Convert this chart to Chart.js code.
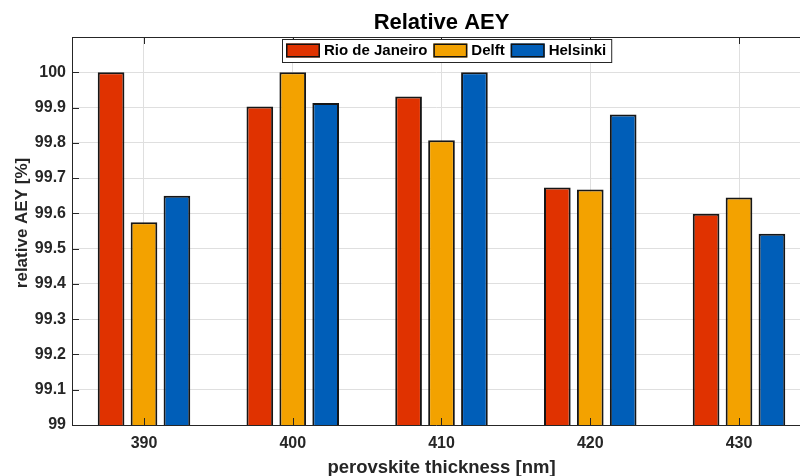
<!DOCTYPE html>
<html>
<head>
<meta charset="utf-8">
<title>Relative AEY</title>
<script src="https://cdn.jsdelivr.net/npm/chart.js@4.4.1/dist/chart.umd.min.js"></script>
<style>
    html, body { margin: 0; padding: 0; background: #ffffff; overflow: hidden; }
    canvas { display: block; }
</style>
</head>
<body>
<canvas id="aeyChart" width="800" height="476"></canvas>
<script>
// perovskite thickness groups and relative AEY per location
const thickness = [390, 400, 410, 420, 430];
const rioDeJaneiro = [100.0, 99.903, 99.931, 99.673, 99.599];
const delft = [99.575, 100.0, 99.807, 99.668, 99.645];
const helsinki = [99.65, 99.913, 100.0, 99.88, 99.542];
const yTicks = [99, 99.1, 99.2, 99.3, 99.4, 99.5, 99.6, 99.7, 99.8, 99.9, 100];
const seriesNames = ['Rio de Janeiro', 'Delft', 'Helsinki'];
const seriesColors = ['#e03200', '#f3a200', '#005eb8'];

const FONT = '"Liberation Sans", Arial, Helvetica, sans-serif';
const AXIS_COLOR = '#262626';
const GRID_COLOR = '#dfdfdf';

// x range of the whole axes box; the right part runs past the canvas edge
const X_MIN = 385.16, X_MAX = 434.84;

Chart.defaults.font.family = FONT;

// inward tick marks plus the top box line
const boxTicks = {
    id: 'boxTicks',
    afterDatasetsDraw(chart) {
        const { ctx, chartArea: a, scales } = chart;
        const len = 7;
        ctx.save();
        ctx.strokeStyle = AXIS_COLOR;
        ctx.lineWidth = 1;
        ctx.beginPath();
        yTicks.forEach(v => {
            const py = Math.round(scales.y.getPixelForValue(v)) + 0.5;
            ctx.moveTo(a.left, py); ctx.lineTo(a.left + len, py);
        });
        thickness.forEach(v => {
            const px = Math.round(scales.x.getPixelForValue(v)) + 0.5;
            ctx.moveTo(px, a.bottom); ctx.lineTo(px, a.bottom - len);
            ctx.moveTo(px, a.top); ctx.lineTo(px, a.top + len);
        });
        ctx.moveTo(a.left, Math.round(a.top) + 0.5);
        ctx.lineTo(a.right, Math.round(a.top) + 0.5);
        ctx.stroke();
        ctx.restore();
    }
};

// title and axis labels, centred on the full axes box
const axesLabels = {
    id: 'axesLabels',
    afterDraw(chart) {
        const { ctx, chartArea: a, scales } = chart;
        const cx = scales.x.getPixelForValue((X_MIN + X_MAX) / 2);
        ctx.save();
        ctx.textAlign = 'center';
        ctx.textBaseline = 'alphabetic';

        ctx.fillStyle = '#000000';
        ctx.font = 'bold 22px ' + FONT;
        ctx.fillText('Relative AEY', cx, 29);

        ctx.fillStyle = AXIS_COLOR;
        ctx.font = 'bold 18.5px ' + FONT;
        ctx.fillText('perovskite thickness [nm]', cx, 473);

        ctx.font = 'bold 17px ' + FONT;
        ctx.translate(27, (a.top + a.bottom) / 2 - 8);
        ctx.rotate(-Math.PI / 2);
        ctx.fillText('relative AEY [%]', 0, 0);
        ctx.restore();
    }
};

// boxed legend in a single row along the top of the plot
const boxLegend = {
    id: 'boxLegend',
    afterDraw(chart) {
        const { ctx, chartArea: a } = chart;
        const sw = 34, sh = 14, gap = 4, itemGap = 6, padL = 4, padR = 5, h = 23;
        ctx.save();
        ctx.font = 'bold 15px ' + FONT;
        const widths = seriesNames.map(n => ctx.measureText(n).width);
        let total = padL + padR + itemGap * (seriesNames.length - 1);
        widths.forEach(w => { total += sw + gap + w; });
        const left = 282;
        const top = Math.round(a.top + 2);

        ctx.fillStyle = '#ffffff';
        ctx.fillRect(left, top, total, h);
        ctx.strokeStyle = AXIS_COLOR;
        ctx.lineWidth = 1;
        ctx.strokeRect(left + 0.5, top + 0.5, total, h);

        let x = left + padL;
        const midY = top + h / 2 + 0.5;
        seriesNames.forEach((name, i) => {
            ctx.fillStyle = seriesColors[i];
            ctx.fillRect(x, top + 4.5, sw, sh);
            ctx.strokeStyle = '#111111';
            ctx.lineWidth = 1.5;
            ctx.strokeRect(x + 0.75, top + 5.25, sw - 1.5, sh - 1.5);
            x += sw + gap;
            ctx.fillStyle = '#000000';
            ctx.textAlign = 'left';
            ctx.textBaseline = 'middle';
            ctx.fillText(name, x, midY);
            x += widths[i] + itemGap;
        });
        ctx.restore();
    }
};

const series = [rioDeJaneiro, delft, helsinki];

new Chart(document.getElementById('aeyChart').getContext('2d'), {
    type: 'bar',
    data: {
        datasets: series.map((vals, i) => ({
            label: seriesNames[i],
            data: thickness.map((t, k) => ({ x: t, y: vals[k] })),
            backgroundColor: seriesColors[i],
            borderColor: '#161616',
            borderWidth: 2,
            categoryPercentage: 0.664,
            barPercentage: 0.81
        }))
    },
    options: {
        responsive: false,
        animation: false,
        devicePixelRatio: 1,
        layout: { padding: { top: 37, right: 0, bottom: 0, left: 0 } },
        plugins: {
            legend: { display: false },
            tooltip: { enabled: false },
            title: { display: false }
        },
        scales: {
            x: {
                type: 'linear',
                min: X_MIN,
                // axes box is 739px wide, canvas shows the first 728px of it
                max: X_MIN + (X_MAX - X_MIN) * 728 / 739,
                offset: false,
                afterBuildTicks: scale => { scale.ticks = thickness.map(v => ({ value: v })); },
                afterFit: scale => { scale.height = 51; },
                grid: { color: GRID_COLOR, drawTicks: false, offset: false },
                border: { display: true, color: AXIS_COLOR, width: 1 },
                ticks: {
                    color: AXIS_COLOR,
                    font: { size: 16, weight: 'bold' },
                    padding: 9,
                    maxRotation: 0,
                    callback: v => String(v)
                }
            },
            y: {
                min: 99,
                max: 100.1,
                afterBuildTicks: scale => { scale.ticks = yTicks.map(v => ({ value: v })); },
                afterFit: scale => { scale.width = 72; },
                grid: { color: GRID_COLOR, drawTicks: false },
                border: { display: true, color: AXIS_COLOR, width: 1 },
                ticks: {
                    color: AXIS_COLOR,
                    font: { size: 16, weight: 'bold' },
                    padding: 6,
                    callback: v => String(v)
                }
            }
        }
    },
    plugins: [boxTicks, axesLabels, boxLegend]
});
</script>
</body>
</html>
